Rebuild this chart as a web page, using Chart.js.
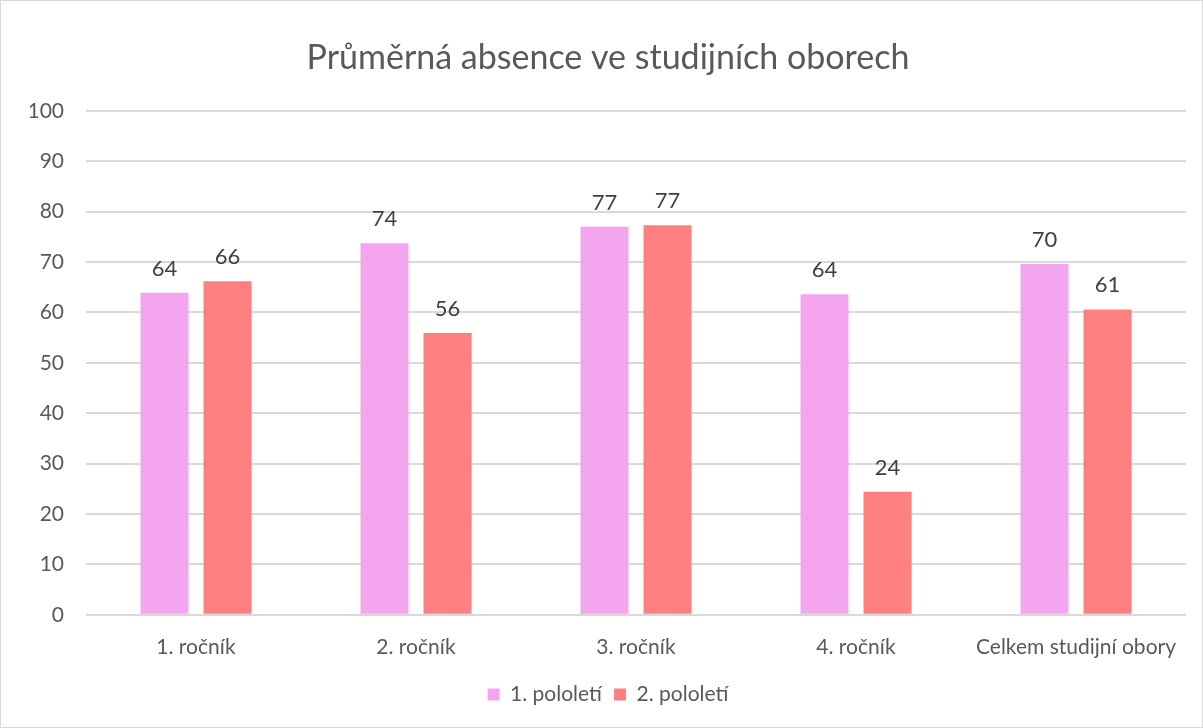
<!DOCTYPE html>
<html>
<head>
<meta charset="utf-8">
<script src="https://cdn.jsdelivr.net/npm/chart.js@4"></script>
<style>
  html, body { margin: 0; padding: 0; background: #fff; }
  #wrap { position: relative; width: 1201px; height: 726px; border: 1px solid #d9d9d9; }
</style>
</head>
<body>
<div id="wrap"><canvas id="myChart"></canvas></div>
<script>
"use strict";

const categories = ['1. ročník', '2. ročník', '3. ročník', '4. ročník', 'Celkem studijní obory'];
const firstHalf = [63.9, 73.7, 77.0, 63.6, 69.6];
const secondHalf = [66.2, 55.9, 77.3, 24.4, 60.6];
const seriesNames = ['1. pololetí', '2. pololetí'];

const fontFamily = 'Lato, "Open Sans", sans-serif';
const textColor = '#595959';

// draws the value above each bar
const valueLabels = {
    id: 'valueLabels',
    afterDatasetsDraw(chart) {
        const ctx = chart.ctx;
        ctx.save();
        ctx.font = '22px ' + fontFamily;
        ctx.fillStyle = '#404040';
        ctx.textAlign = 'center';
        ctx.textBaseline = 'alphabetic';
        chart.data.datasets.forEach((ds, i) => {
            const meta = chart.getDatasetMeta(i);
            meta.data.forEach((bar, j) => {
                ctx.fillText(Math.round(ds.data[j]), bar.x, bar.y - 17);
            });
        });
        ctx.restore();
    }
};

const ctx = document.getElementById('myChart');

const chart = new Chart(ctx, {
    type: 'bar',
    data: {
        labels: categories,
        datasets: [{
            label: seriesNames[0],
            data: firstHalf,
            backgroundColor: '#f3a6ee'
        }, {
            label: seriesNames[1],
            data: secondHalf,
            backgroundColor: '#ff8080'
        }]
    },
    options: {
        responsive: true,
        maintainAspectRatio: false,
        animation: false,
        datasets: {
            bar: {
                categoryPercentage: 0.573,
                barPercentage: 0.762
            }
        },
        layout: {
            padding: { top: 37, left: 29, right: 16, bottom: 12 }
        },
        scales: {
            x: {
                grid: { display: false },
                border: { display: false },
                ticks: {
                    color: textColor,
                    font: { family: fontFamily, size: 21 },
                    padding: 12,
                    maxRotation: 0,
                    minRotation: 0,
                    autoSkip: false
                }
            },
            y: {
                min: 0,
                max: 100,
                afterFit: (scale) => { scale.width = 56; },
                ticks: {
                    stepSize: 10,
                    color: textColor,
                    font: { family: fontFamily, size: 21 },
                    padding: 22
                },
                grid: { color: '#d9d9d9', lineWidth: 2, drawTicks: false },
                border: { display: false }
            }
        },
        plugins: {
            title: {
                display: true,
                text: 'Průměrná absence ve studijních oborech',
                color: textColor,
                font: { family: fontFamily, size: 34, weight: 'normal' },
                padding: { top: 0, bottom: 32 }
            },
            legend: {
                position: 'bottom',
                labels: {
                    color: textColor,
                    font: { family: fontFamily, size: 21 },
                    boxWidth: 12,
                    boxHeight: 12,
                    padding: 12
                }
            },
            tooltip: { enabled: false }
        }
    },
    plugins: [valueLabels]
});
</script>
</body>
</html>
